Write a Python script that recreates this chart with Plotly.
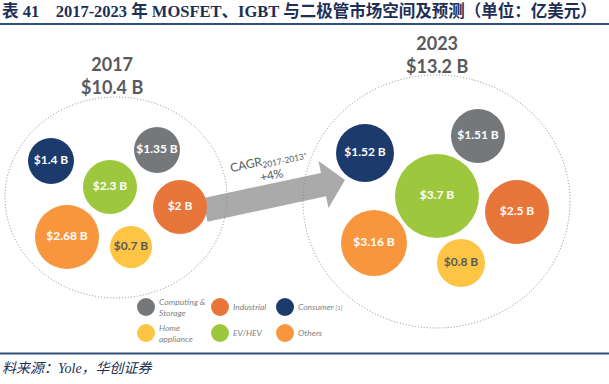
import plotly.graph_objects as go

# ---------------- data ----------------
segments = ["Computing & Storage", "Industrial", "Consumer", "Home appliance", "EV/HEV", "Others"]
legend_labels = ["Computing &<br>Storage", "Industrial", "Consumer <span style='font-size:6px'>[1]</span>",
                 "Home<br>appliance", "EV/HEV", "Others"]
years = ["2017", "2023"]
totals = [10.4, 13.2]
values_2017 = [1.35, 2.0, 1.4, 0.7, 2.3, 2.68]
values_2023 = [1.51, 2.5, 1.52, 0.8, 3.7, 3.16]
cagr_label = "+4%"

# ---------------- styles / layout (pixel space) ----------------
W, H = 609, 384
colors = ["#75787B", "#E8763A", "#1C3A6C", "#FDC543", "#9DC83D", "#F7963C"]
label_colors = ["white", "white", "white", "#58595B", "white", "white"]

# bubble centres and diameters (layout)
pos_2017 = [(157, 150, 46), (180, 207, 54), (51, 161, 46), (131, 247, 42), (110, 187, 54), (67, 237, 64)]
pos_2023 = [(478, 136, 54), (517, 212, 64), (365, 153, 58), (461, 263, 48), (437, 196, 84), (374, 243, 66)]
ring_2017 = (5, 97, 227, 298)
ring_2023 = (303, 75, 570, 328)
legend_pos = [(146, 307), (220, 307), (285, 307), (146, 333), (220, 333), (285, 333)]

fig = go.Figure()

def fmt(v):
    return f"${v:g} B"

for vals, pos in [(values_2017, pos_2017), (values_2023, pos_2023)]:
    fig.add_trace(go.Scatter(
        x=[p[0] for p in pos], y=[p[1] for p in pos],
        mode="markers+text",
        marker=dict(size=[p[2] for p in pos], color=colors, line=dict(width=0), opacity=1),
        text=[fmt(v) for v in vals],
        textposition="middle center",
        textfont=dict(family="Lato, Open Sans, sans-serif", size=12, color=label_colors, weight="bold"),
        hoverinfo="skip", showlegend=False, cliponaxis=False,
    ))

# legend markers
fig.add_trace(go.Scatter(
    x=[p[0] for p in legend_pos], y=[p[1] for p in legend_pos],
    mode="markers", marker=dict(size=18, color=colors, line=dict(width=0)),
    hoverinfo="skip", showlegend=False, cliponaxis=False,
))

shapes = []
# arrow (behind)
shapes.append(dict(
    type="path", layer="below",
    path="M 202.5 198.3 L 321 172.9 L 318.5 161.1 L 345 180 L 328.5 208.1 L 326 196.3 L 207.5 221.7 Z",
    fillcolor="#AAAAAA", line=dict(width=0),
))
for r in (ring_2017, ring_2023):
    shapes.append(dict(type="circle", layer="below", x0=r[0], y0=r[1], x1=r[2], y1=r[3],
                       line=dict(color="#8A8A8A", width=1, dash="1px,2px")))
# rules
shapes.append(dict(type="line", xref="paper", x0=0, x1=1, y0=24, y1=24, line=dict(color="#2E4F80", width=2)))
shapes.append(dict(type="line", xref="paper", x0=0, x1=1, y0=353.5, y1=353.5, line=dict(color="#2E4F80", width=2)))

annotations = []
# title
annotations.append(dict(
    xref="paper", x=0, y=11, xanchor="left", yanchor="middle", showarrow=False,
    text="<b>表 41    2017-2023 年 MOSFET、IGBT 与二极管市场空间及预测（单位：亿美元）</b>",
    font=dict(family="Liberation Serif, Times New Roman, Noto Sans CJK SC", size=16.5, color="#1E2F55"),
))
# year headers
for yr, tot, (cx, cy) in zip(years, totals, [(112, 75), (437, 54)]):
    annotations.append(dict(
        x=cx, y=cy, xanchor="center", yanchor="middle", showarrow=False,
        text=f"<b>{yr}<br>${tot:g} B</b>",
        font=dict(family="Lato, Open Sans, sans-serif", size=18, color="#58595B"),
    ))
# CAGR
annotations.append(dict(
    x=270, y=167, xanchor="center", yanchor="middle", showarrow=False, textangle=-12,
    text="CAGR<sub>2017-2013*</sub><br>" + cagr_label,
    font=dict(family="Lato, Open Sans, sans-serif", size=12, color="#58595B"),
))
# legend labels
for (lx, ly), lab in zip(legend_pos, legend_labels):
    annotations.append(dict(
        x=lx + 11, y=ly, xanchor="left", yanchor="middle", showarrow=False, align="left",
        text=f"<i>{lab}</i>",
        font=dict(family="Lato, Open Sans, sans-serif", size=8.5, color="#7F7F7F"),
    ))
# source
annotations.append(dict(
    xref="paper", x=0, y=368, xanchor="left", yanchor="middle", showarrow=False,
    text="<i>料来源：Yole，华创证券</i>",
    font=dict(family="Liberation Serif, Times New Roman, Noto Sans CJK SC", size=14, color="#1E2F55"),
))

fig.update_layout(
    width=W, height=H, margin=dict(l=0, r=0, t=0, b=0),
    paper_bgcolor="white", plot_bgcolor="white",
    xaxis=dict(range=[0, W], visible=False, fixedrange=True),
    yaxis=dict(range=[H, 0], visible=False, fixedrange=True),
    shapes=shapes, annotations=annotations, showlegend=False,
)

fig.write_html(
    "out.html",
    config={"displayModeBar": False},
    post_script="document.body.style.margin='0';document.body.style.overflow='hidden';",
)
